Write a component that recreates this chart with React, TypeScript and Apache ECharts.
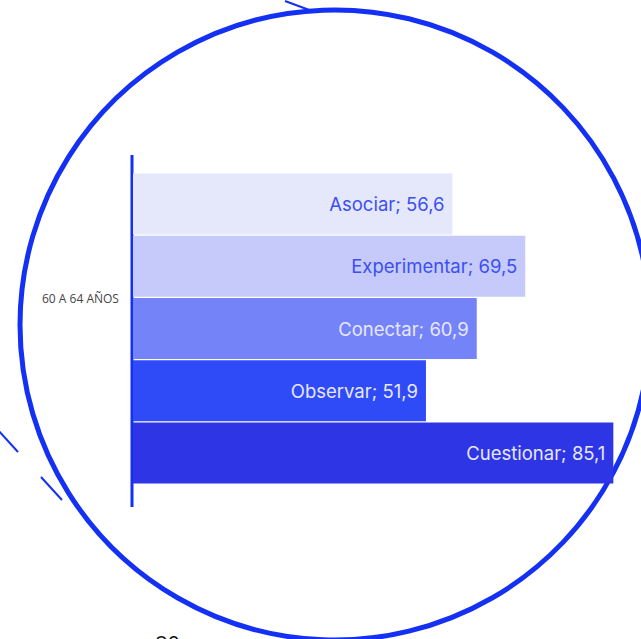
import React, { useEffect, useRef } from "react";
import * as echarts from "echarts";

const categories = ["Asociar", "Experimentar", "Conectar", "Observar", "Cuestionar"];
const values = [56.6, 69.5, 60.9, 51.9, 85.1];
const barColors = ["#e5e7fb", "#c5cafa", "#7583f9", "#2f4af7", "#2e35e5"];
const labelColors = ["#3c4ff0", "#3c4ff0", "#e6e8ff", "#e6e8ff", "#e6e8ff"];
const groupLabel = "60 A 64 AÑOS";
const bottomText = "80";

const fmt = (v: number) => v.toFixed(1).replace(".", ",");

export default function App() {
  const ref = useRef<HTMLDivElement>(null);
  useEffect(() => {
    if (!ref.current) return;
    const chart = echarts.init(ref.current, null, { renderer: "svg" });
    const blue = "#1430f2";
    chart.setOption({
      animation: false,
      backgroundColor: "#ffffff",
      grid: { left: 133, top: 173, right: 0, height: 311, containLabel: false },
      xAxis: {
        type: "value",
        min: 0,
        max: 90,
        show: false,
      },
      yAxis: {
        type: "category",
        data: categories,
        inverse: true,
        axisLine: { show: false },
        axisTick: { show: false },
        axisLabel: { show: false },
      },
      series: [
        {
          type: "bar",
          barCategoryGap: "2%",
          data: values.map((v, i) => ({
            value: v,
            itemStyle: { color: barColors[i] },
            label: { color: labelColors[i] },
          })),
          label: {
            show: true,
            position: "insideRight",
            distance: 8,
            fontFamily: "Inter",
            fontSize: 18.5,
            formatter: (p: any) => `${p.name}; ${fmt(p.value)}`,
          },
        },
      ],
      graphic: [
        {
          type: "circle",
          shape: { cx: 335, cy: 325, r: 315 },
          style: { fill: "none", stroke: blue, lineWidth: 5 },
          silent: true,
        },
        {
          type: "line",
          shape: { x1: 132, y1: 155, x2: 132, y2: 507 },
          style: { stroke: blue, lineWidth: 3 },
        },
        {
          type: "line",
          shape: { x1: 285, y1: 1, x2: 312, y2: 11 },
          style: { stroke: blue, lineWidth: 2 },
        },
        {
          type: "line",
          shape: { x1: -2, y1: 430, x2: 18, y2: 452 },
          style: { stroke: blue, lineWidth: 2 },
        },
        {
          type: "line",
          shape: { x1: 41, y1: 477, x2: 62, y2: 500 },
          style: { stroke: blue, lineWidth: 2 },
        },
        {
          type: "text",
          x: 42,
          y: 298,
          style: {
            text: groupLabel,
            fill: "#444444",
            font: "12px 'Open Sans'",
            textVerticalAlign: "middle",
          },
        },
        {
          type: "text",
          x: 155,
          y: 632,
          style: {
            text: bottomText,
            fill: "#111111",
            font: "22px 'Open Sans'",
            textVerticalAlign: "top",
          },
        },
      ],
    });
    return () => chart.dispose();
  }, []);
  return (
    <div
      ref={ref}
      style={{ position: "absolute", left: 0, top: 0, width: 641, height: 639, overflow: "hidden" }}
    />
  );
}
